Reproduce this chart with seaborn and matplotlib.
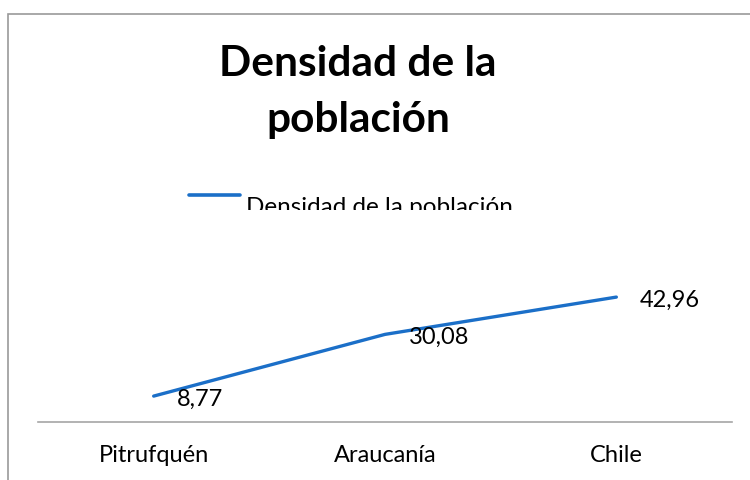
import matplotlib
matplotlib.use("Agg")
import matplotlib.pyplot as plt
from matplotlib.patches import Rectangle
from matplotlib.lines import Line2D
from matplotlib.transforms import Bbox
import seaborn as sns
import pandas as pd

categories = ["Pitrufquén", "Araucanía", "Chile"]
values = [8.77, 30.08, 42.96]
value_labels = ["8,77", "30,08", "42,96"]
series_name = "Densidad de la población"
title = "Densidad de la\npoblación"

sns.set_theme(style="white")
plt.rcParams["font.family"] = ["Lato", "DejaVu Sans"]

W, H = 750, 480
fig = plt.figure(figsize=(7.5, 4.8), dpi=100)
fig.patch.set_facecolor("white")

# outer chart-area border (cropped on right and bottom)
fig.patches.append(Rectangle((8 / W, -0.2), 1.2, 1 - 13.5 / H + 0.2,
                             transform=fig.transFigure, fill=False,
                             edgecolor="#9a9a9a", linewidth=1.2))

ax_left, ax_right = 38 / W, 732 / W
ax_bottom = 1 - 421.5 / H
ymax = 70
ax_height = ymax * 2.896 / H
ax = fig.add_axes([ax_left, ax_bottom, ax_right - ax_left, ax_height])

df = pd.DataFrame({"cat": categories, "val": values})
color = "#1B6FC8"
sns.lineplot(data=df, x="cat", y="val", sort=False, color=color,
             linewidth=2.4, ax=ax, legend=False)

ax.set_xlim(-0.5, len(categories) - 0.5)
ax.set_ylim(0, ymax)
ax.set_xlabel("")
ax.set_ylabel("")
ax.set_yticks([])
for s in ["top", "left", "right"]:
    ax.spines[s].set_visible(False)
ax.spines["bottom"].set_color("#a6a6a6")
ax.spines["bottom"].set_linewidth(1.2)
ax.tick_params(axis="x", length=0, pad=17, labelsize=17, colors="black")

for i, (v, lab) in enumerate(zip(values, value_labels)):
    ax.annotate(lab, (i, v), xytext=(17, -2), textcoords="offset points",
                ha="left", va="center", fontsize=17, color="black")

fig.text(358 / W, 1 - 92 / H, title, ha="center", va="center",
         fontsize=30.5, fontweight="bold", linespacing=1.55, color="black")

# legend (top part only visible, bottom clipped by the plot area)
fig.lines.append(Line2D([189 / W, 240 / W], [1 - 195 / H, 1 - 195 / H],
                        transform=fig.transFigure, color=color, linewidth=2.6))
lt = fig.text(246 / W, 1 - 214.5 / H, series_name, ha="left", va="baseline",
              fontsize=17.5, color="black")
lt.set_clip_box(Bbox([[0, H - 209.5], [W, H]]))
lt.set_clip_on(True)

fig.savefig("out.png", dpi=100)
